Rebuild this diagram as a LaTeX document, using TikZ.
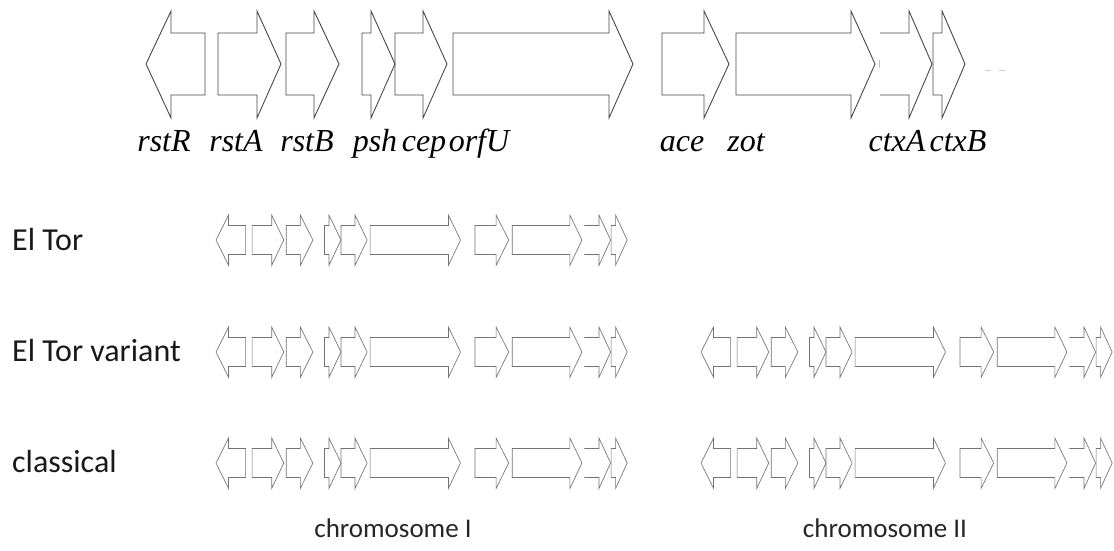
\documentclass[tikz,border=0pt]{standalone}
\usepackage{fontspec}
\setmainfont{Liberation Serif}
\newfontfamily\carl{Carlito}
\tikzset{
  gene/.style={draw=black!72, line width=0.9pt, line join=miter},
  sgene/.style={draw=black!55, line width=0.65pt, line join=miter},
  glabel/.style={anchor=base, inner sep=0pt, font=\fontsize{32}{32}\selectfont\itshape},
  rowlabel/.style={anchor=base west, inner sep=0pt, font=\carl\fontsize{32}{32}\selectfont, text=black!90},
  chrlabel/.style={anchor=base, inner sep=0pt, font=\carl\fontsize{27}{27}\selectfont, text=black!85}
}
% right-pointing gene: left, head base, tip
\newcommand\fwdgene[4][gene]{\draw[#1] (#2,33) -- (#3,33) -- (#3,11) -- (#4,64) -- (#3,118) -- (#3,95) -- (#2,95) -- cycle;}
% gene without left edge
\newcommand\fwdopen[4][gene]{\draw[#1] (#2,33) -- (#3,33) -- (#3,11) -- (#4,64) -- (#3,118) -- (#3,95) -- (#2,95);}
% left-pointing gene: tip, head base, right
\newcommand\revgene[4][gene]{\draw[#1] (#4,33) -- (#3,33) -- (#3,11) -- (#2,64) -- (#3,118) -- (#3,95) -- (#4,95) -- cycle;}
\newcommand\ctxelement[1][gene]{%
  \revgene[#1]{146}{171}{205}
  \fwdgene[#1]{218}{257}{281}
  \fwdgene[#1]{286}{314}{339}
  \fwdgene[#1]{362}{371}{395}
  \fwdgene[#1]{395}{423}{447}
  \fwdgene[#1]{453}{609}{633}
  \fwdgene[#1]{662}{704}{729}
  \fwdgene[#1]{736}{851}{875}
  \fwdopen[#1]{880}{909}{932}
  \fwdgene[#1]{933}{942}{965}
}
\begin{document}
\begin{tikzpicture}[x=1pt,y=-1pt]
\useasboundingbox (0,0) rectangle (1114,551);
\fill[white] (0,0) rectangle (1114,551);
% top detailed element
\ctxelement
\draw[black!25, line width=0.6pt] (879,60) -- (879,68);
\draw[black!20, line width=0.6pt, dash pattern=on 6pt off 8pt] (985,70) -- (1008,70);
% gene labels
\node[glabel] (rstR) at (164,151) {rstR};
\node[glabel] (rstA) at (236,151) {rstA};
\node[glabel] (rstB) at (307,151) {rstB};
\node[glabel] (psh) at (375,151) {psh};
\node[glabel] (cep) at (424,151) {cep};
\node[glabel] (orfU) at (479,151) {orfU};
\node[glabel] (ace) at (682,151) {ace};
\node[glabel] (zot) at (746,151) {zot};
\node[glabel] (ctxA) at (897,151) {ctxA};
\node[glabel] (ctxB) at (958,151) {ctxB};
% small copies
\foreach \sx/\sy in {216/240, 216/352, 701/352, 216/463, 701/463}{
  \begin{scope}[shift={(\sx,\sy)}, xscale=0.502, yscale=0.47, shift={(-146,-64)}]
    \ctxelement[sgene]
  \end{scope}
}
% row labels
\node[rowlabel] (eltor) at (12,250) {El Tor};
\node[rowlabel] (variant) at (12,361) {El Tor variant};
\node[rowlabel] (classical) at (12,472) {classical};
\node[chrlabel] (chrI) at (393,537) {chromosome I};
\node[chrlabel] (chrII) at (885,537) {chromosome II};
\end{tikzpicture}
\end{document}
